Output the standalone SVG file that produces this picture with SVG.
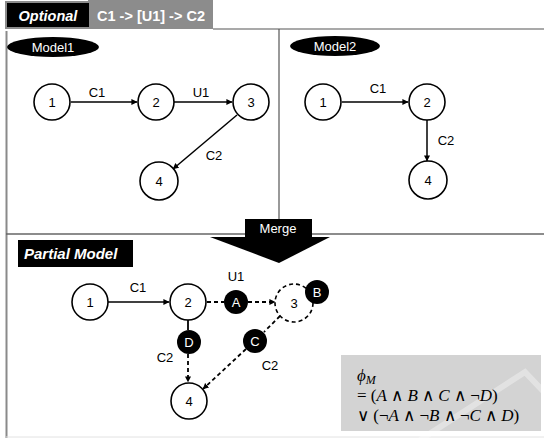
<svg xmlns="http://www.w3.org/2000/svg" width="544" height="438" viewBox="0 0 544 438">
  <style>
    .node { fill: #fff; stroke: #000; stroke-width: 1.6; }
    .dnode { fill: #fff; stroke: #000; stroke-width: 1.6; stroke-dasharray: 4 3; }
    .tag { fill: #000; }
    .num { font-family: "Liberation Sans", Arial, sans-serif; font-size: 13px; fill: #000; text-anchor: middle; }
    .tagtxt { font-family: "Liberation Sans", Arial, sans-serif; font-size: 13px; fill: #fff; text-anchor: middle; }
    .lbl { font-family: "Liberation Sans", Arial, sans-serif; font-size: 13px; fill: #000; text-anchor: middle; }
    .edge { stroke: #000; stroke-width: 1.5; fill: none; marker-end: url(#arrow); }
    .dedge { stroke: #000; stroke-width: 1.8; fill: none; stroke-dasharray: 4 3; }
    .frame { stroke: #555; stroke-width: 1.2; fill: none; }
    .head { font-family: "Liberation Sans", Arial, sans-serif; font-weight: bold; fill: #fff; }
    .math { font-family: "Liberation Serif", "Times New Roman", serif; font-size: 17px; fill: #000; }
  </style>
  <defs>
    <marker id="arrow" viewBox="0 0 8 8" refX="7.5" refY="4" markerWidth="6" markerHeight="6" markerUnits="userSpaceOnUse" orient="auto">
      <path d="M0,0 L8,4 L0,8 z" fill="#000"/>
    </marker>
  </defs>

  <rect width="544" height="438" fill="#fff"/>

  <!-- heading -->
  <g id="heading">
    <rect x="88" y="0" width="125" height="29" fill="#8c8c8c"/>
    <rect x="6" y="2" width="84" height="26" fill="#000" stroke="#8c8c8c" stroke-width="2"/>
    <text class="head" x="48" y="21" font-size="14.5" font-style="italic" text-anchor="middle">Optional</text>
    <text class="head" x="97" y="21" font-size="14.5" fill="#f2f2f2">C1 -&gt; [U1] -&gt; C2</text>
  </g>

  <!-- frame lines -->
  <g id="frame">
    <line x1="213" y1="29" x2="544" y2="29" class="frame"/>
    <line x1="6.5" y1="31" x2="6.5" y2="438" stroke="#8a8a8a" stroke-width="2"/>
    <line x1="279" y1="29" x2="279" y2="219" class="frame"/>
    <line x1="6" y1="234" x2="544" y2="234" stroke="#666" stroke-width="1.6"/>
    <line x1="6" y1="437" x2="544" y2="437" stroke="#e2e2e2" stroke-width="1"/>
  </g>

  <!-- formula panel -->
  <g id="formula">
    <rect x="341" y="355" width="200" height="76" fill="#d3d3d3"/>
    <polyline points="420,440 525,372 544,392" fill="none" stroke="#fff" stroke-opacity="0.35" stroke-width="6"/>
    <text class="math" x="357" y="381"><tspan font-style="italic">ϕ</tspan><tspan font-style="italic" font-size="12" dy="3">M</tspan></text>
    <text class="math" x="357" y="401">= (<tspan font-style="italic">A</tspan> ∧ <tspan font-style="italic">B</tspan> ∧ <tspan font-style="italic">C</tspan> ∧ ¬<tspan font-style="italic">D</tspan>)</text>
    <text class="math" x="357" y="421">∨ (¬<tspan font-style="italic">A</tspan> ∧ ¬<tspan font-style="italic">B</tspan> ∧ ¬<tspan font-style="italic">C</tspan> ∧ <tspan font-style="italic">D</tspan>)</text>
  </g>

  <!-- merge arrow -->
  <g id="merge">
    <rect x="245" y="219" width="67" height="18" fill="#000"/>
    <polygon points="210,237 330,237 279,263" fill="#000"/>
    <text class="tagtxt" x="278" y="233">Merge</text>
  </g>

  <!-- section labels -->
  <g id="model1-label">
    <ellipse cx="53" cy="47" rx="46" ry="10" class="tag"/>
    <text class="tagtxt" x="53" y="52" font-size="14">Model1</text>
  </g>
  <g id="model2-label">
    <ellipse cx="335" cy="46" rx="45" ry="10" class="tag"/>
    <text class="tagtxt" x="335" y="51" font-size="14">Model2</text>
  </g>
  <g id="partial-label">
    <rect x="18" y="240" width="115" height="27" fill="#000"/>
    <text class="head" x="24" y="259" font-size="15" font-style="italic">Partial Model</text>
  </g>

  <!-- connectors -->
  <g id="connectors">
    <!-- Model1 -->
    <line x1="71" y1="102" x2="137" y2="102" class="edge"/>
    <line x1="174" y1="102" x2="232" y2="102" class="edge"/>
    <line x1="237" y1="115" x2="173" y2="169" class="edge"/>
    <!-- Model2 -->
    <line x1="342" y1="102" x2="408" y2="102" class="edge"/>
    <line x1="427" y1="120" x2="427" y2="161" class="edge"/>
    <!-- Partial model -->
    <line x1="108" y1="302" x2="169" y2="302" class="edge"/>
    <line x1="207" y1="302" x2="224" y2="302" class="dedge"/>
    <line x1="248" y1="302" x2="275" y2="302" class="dedge" marker-end="url(#arrow)"/>
    <line x1="188" y1="320" x2="188" y2="330" stroke="#000" stroke-width="1.8"/>
    <line x1="188" y1="354" x2="188" y2="382" class="dedge" marker-end="url(#arrow)"/>
    <line x1="280" y1="316" x2="264" y2="332" class="dedge"/>
    <line x1="246" y1="349" x2="203" y2="389" class="dedge" marker-end="url(#arrow)"/>
  </g>

  <!-- connector labels -->
  <g id="edge-labels">
    <text class="lbl" x="97" y="97">C1</text>
    <text class="lbl" x="201" y="97">U1</text>
    <text class="lbl" x="214" y="160">C2</text>
    <text class="lbl" x="378" y="93">C1</text>
    <text class="lbl" x="446" y="145">C2</text>
    <text class="lbl" x="138" y="292">C1</text>
    <text class="lbl" x="236" y="281">U1</text>
    <text class="lbl" x="165" y="362">C2</text>
    <text class="lbl" x="270" y="370">C2</text>
  </g>

  <!-- Model1 nodes -->
  <g id="m1-n1"><circle cx="52" cy="102" r="18" class="node"/><text class="num" x="52" y="107">1</text></g>
  <g id="m1-n2"><circle cx="156" cy="102" r="18" class="node"/><text class="num" x="156" y="107">2</text></g>
  <g id="m1-n3"><circle cx="251" cy="102" r="18" class="node"/><text class="num" x="251" y="107">3</text></g>
  <g id="m1-n4"><circle cx="159" cy="181" r="19" class="node"/><text class="num" x="159" y="186">4</text></g>

  <!-- Model2 nodes -->
  <g id="m2-n1"><circle cx="323" cy="102" r="18" class="node"/><text class="num" x="323" y="107">1</text></g>
  <g id="m2-n2"><circle cx="427" cy="102" r="18" class="node"/><text class="num" x="427" y="107">2</text></g>
  <g id="m2-n4"><circle cx="428" cy="180" r="19" class="node"/><text class="num" x="428" y="185">4</text></g>

  <!-- Partial model nodes -->
  <g id="p-n1"><circle cx="90" cy="302" r="18" class="node"/><text class="num" x="90" y="307">1</text></g>
  <g id="p-n2"><circle cx="188" cy="302" r="18" class="node"/><text class="num" x="188" y="307">2</text></g>
  <g id="p-n3"><circle cx="294" cy="303" r="19" class="dnode"/><text class="num" x="294" y="308">3</text></g>
  <g id="p-n4"><circle cx="189" cy="401" r="18" class="node"/><text class="num" x="189" y="406">4</text></g>

  <!-- condition tags -->
  <g id="tag-A"><circle cx="236" cy="302" r="12" class="tag"/><text class="tagtxt" x="236" y="307">A</text></g>
  <g id="tag-B"><circle cx="317" cy="292" r="12" class="tag"/><text class="tagtxt" x="317" y="297">B</text></g>
  <g id="tag-C"><circle cx="255" cy="341" r="12" class="tag"/><text class="tagtxt" x="255" y="346">C</text></g>
  <g id="tag-D"><circle cx="189" cy="342" r="12" class="tag"/><text class="tagtxt" x="189" y="347">D</text></g>
</svg>
